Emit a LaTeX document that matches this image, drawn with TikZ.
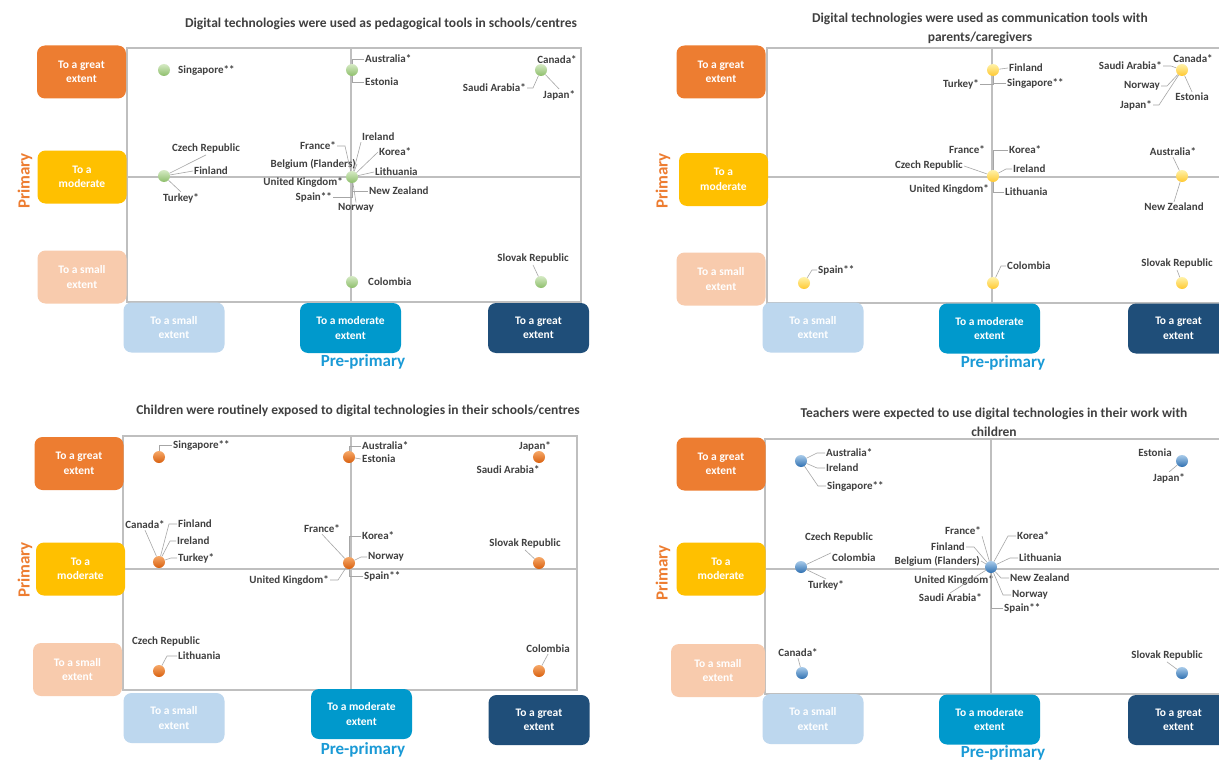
\documentclass[tikz,border=0pt]{standalone}
\usepackage{fontspec}
\setmainfont{Carlito}
\usetikzlibrary{calc}
\definecolor{cgreat}{HTML}{ED7D31}
\definecolor{cmod}{HTML}{FFC000}
\definecolor{csmall}{HTML}{F8CBAD}
\definecolor{bsmall}{HTML}{BDD7EE}
\definecolor{bmod}{HTML}{0099CC}
\definecolor{bgreat}{HTML}{1F4E79}
\definecolor{primc}{HTML}{ED7D31}
\definecolor{preprc}{HTML}{1A9AD6}
\definecolor{frgray}{HTML}{BFBFBF}
\definecolor{ldgray}{HTML}{A6A6A6}
\definecolor{labc}{HTML}{404040}
\definecolor{gtop}{HTML}{D5EAC4}
\definecolor{gbot}{HTML}{8DBE6A}
\definecolor{ytop}{HTML}{FFF2A8}
\definecolor{ybot}{HTML}{FFC830}
\definecolor{otop}{HTML}{F6A868}
\definecolor{obot}{HTML}{D8600F}
\definecolor{btop}{HTML}{A8CBEA}
\definecolor{bbot}{HTML}{2E6FB0}
\newcommand\dt[3]{\node[#1] (#2) at (#3) {};}
\newcommand\labW[3]{\node[lb,anchor=west] (#1) at (#2) {#3};}
\newcommand\labE[3]{\node[lb,anchor=east] (#1) at (#2) {#3};}
\newcommand\labC[3]{\node[lb] (#1) at (#2) {#3};}
\begin{document}
\begin{tikzpicture}[x=1pt,y=-1pt,
  frame/.style={draw=frgray, line width=1.1pt},
  lead/.style={draw=ldgray, line width=0.6pt},
  catbox/.style={rounded corners=8pt, text=white, align=center, font=\fontsize{11.5}{14.5}\selectfont\bfseries, inner sep=0pt},
  lbox/.style={catbox, minimum width=89pt, minimum height=53pt},
  bbox/.style={catbox, minimum width=101pt, minimum height=50pt},
  lb/.style={font=\fontsize{11}{12}\selectfont\bfseries, text=labc, inner sep=1pt},
  ttl/.style={font=\fontsize{13.5}{19}\selectfont\bfseries, text=labc, align=center},
  primlab/.style={font=\fontsize{17}{19}\selectfont\bfseries, text=primc, rotate=90},
  prelab/.style={font=\fontsize{17}{19}\selectfont\bfseries, text=preprc},
  dotb/.style={circle, minimum size=12pt, inner sep=0pt, draw=none},
  gdot/.style={dotb, top color=gtop, bottom color=gbot},
  ydot/.style={dotb, top color=ytop, bottom color=ybot},
  odot/.style={dotb, top color=otop, bottom color=obot},
  bdot/.style={dotb, top color=btop, bottom color=bbot}]
\useasboundingbox (0,0) rectangle (1219,760);
\fill[white] (0,0) rectangle (1219,760);

% ---------------- titles
\node[ttl] (t1) at (381,24) {Digital technologies were used as pedagogical tools in schools/centres};
\node[ttl] (t2) at (980,28.5) {Digital technologies were used as communication tools with\\parents/caregivers};
\node[ttl] (t3) at (358,411) {Children were routinely exposed to digital technologies in their schools/centres};
\node[ttl] (t4) at (994,422.5) {Teachers were expected to use digital technologies in their work with\\children};

% ---------------- frames
\draw[frame] (127,48) rectangle (581,302) (351,48) -- (351,302) (127,177) -- (581,177);
\draw[frame] (767,48) rectangle (1230,303) (992,48) -- (992,303) (767,177) -- (1230,177);
\draw[frame] (123,436) rectangle (577,690) (351,436) -- (351,690) (123,569) -- (577,569);
\draw[frame] (765,439) rectangle (1230,694) (991,439) -- (991,694) (765,569) -- (1230,569);

% ---------------- category boxes, panel 1
\node[lbox, fill=cgreat] (p1g) at (81.5,72) {To a great\\extent};
\node[lbox, fill=cmod] (p1m) at (82,177) {To a\\moderate};
\node[lbox, fill=csmall] (p1s) at (82,277) {To a small\\extent};
\node[bbox, fill=bsmall] (q1s) at (174,327.5) {To a small\\extent};
\node[bbox, fill=bmod] (q1m) at (350.5,328) {To a moderate\\extent};
\node[bbox, fill=bgreat] (q1g) at (538.5,328) {To a great\\extent};
\node[primlab] (pr1) at (25,181) {Primary};
\node[prelab] (pp1) at (363,362) {Pre-primary};
% panel 2
\node[lbox, fill=cgreat] (p2g) at (721,72) {To a great\\extent};
\node[lbox, fill=cmod] (p2m) at (723.5,179.5) {To a\\moderate};
\node[lbox, fill=csmall] (p2s) at (721,279) {To a small\\extent};
\node[bbox, fill=bsmall] (q2s) at (813,327.5) {To a small\\extent};
\node[bbox, fill=bmod] (q2m) at (989.5,328.5) {To a moderate\\extent};
\node[bbox, fill=bgreat] (q2g) at (1178.5,328.5) {To a great\\extent};
\node[primlab] (pr2) at (663,181) {Primary};
\node[prelab] (pp2) at (1003,363) {Pre-primary};
% panel 3
\node[lbox, fill=cgreat] (p3g) at (79,463.5) {To a great\\extent};
\node[lbox, fill=cmod] (p3m) at (80.5,569) {To a\\moderate};
\node[lbox, fill=csmall] (p3s) at (77.5,669.5) {To a small\\extent};
\node[bbox, fill=bsmall] (q3s) at (174,718) {To a small\\extent};
\node[bbox, fill=bmod] (q3m) at (361.5,714) {To a moderate\\extent};
\node[bbox, fill=bgreat] (q3g) at (539,720) {To a great\\extent};
\node[primlab] (pr3) at (25,570) {Primary};
\node[prelab] (pp3) at (363,750) {Pre-primary};
% panel 4
\node[lbox, fill=cgreat] (p4g) at (721,464) {To a great\\extent};
\node[lbox, fill=cmod] (p4m) at (721,569) {To a\\moderate};
\node[lbox, fill=csmall, minimum width=94pt] (p4s) at (718,670.5) {To a small\\extent};
\node[bbox, fill=bsmall] (q4s) at (813,719) {To a small\\extent};
\node[bbox, fill=bmod] (q4m) at (989.5,719.5) {To a moderate\\extent};
\node[bbox, fill=bgreat] (q4g) at (1178.5,720) {To a great\\extent};
\node[primlab] (pr4) at (663,573) {Primary};
\node[prelab] (pp4) at (1003,753) {Pre-primary};

% ================= panel 1 points
\dt{gdot}{a1}{164,70}
\dt{gdot}{a2}{352,70}
\dt{gdot}{a3}{541,70}
\dt{gdot}{a4}{164,176}
\dt{gdot}{a5}{352,177}
\dt{gdot}{a6}{352,282}
\dt{gdot}{a7}{541,282}
\labW{a1s}{177,70}{Singapore**}
\labW{a2a}{364,59}{Australia*}
\labW{a2e}{364,82}{Estonia}
\labC{a3c}{557,60}{Canada*}
\labE{a3s}{527,88}{Saudi Arabia*}
\labW{a3j}{542,95}{Japan*}
\labC{a4c}{206,149}{Czech Republic}
\labW{a4f}{193,171}{Finland}
\labC{a4t}{181,198}{Turkey*}
\labE{a5f}{337,146}{France*}
\labW{a5i}{361,137}{Ireland}
\labW{a5k}{378,152}{Korea*}
\labE{a5b}{357,164}{Belgium (Flanders)}
\labW{a5l}{374,172}{Lithuania}
\labE{a5u}{344,182}{United Kingdom*}
\labW{a5n}{368,191}{New Zealand}
\labE{a5s}{333,197}{Spain**}
\labC{a5o}{356,208}{Norway}
\labW{a6c}{367,282}{Colombia}
\labC{a7s}{533,259}{Slovak Republic}
\draw[lead] (a2) |- (a2a.west);
\draw[lead] (a2) |- (a2e.west);
\draw[lead] (a3s.east) -- ++(6,0) -- (a3);
\draw[lead] (a3) -- (a3j.north);
\draw[lead] (a4) -- (a4c.south);
\draw[lead] (a4) -- (a4f.west);
\draw[lead] (a4) -- (a4t.north);
\draw[lead] (a5f.east) -- ++(8,0) -- (a5);
\draw[lead] (a5) -- (a5i.south west);
\draw[lead] (a5) -- (a5k.west);
\draw[lead] (a5b.east) -- (a5);
\draw[lead] (a5l.west) -- (a5);
\draw[lead] (a5) |- (a5n.west);
\draw[lead] (a5s.east) -| (a5);
\draw[lead] (a5) -- (a5o.north);
\draw[lead] (a7) -- (a7s.south);

% ================= panel 2 points
\dt{ydot}{b1}{993,70}
\dt{ydot}{b2}{1182,70}
\dt{ydot}{b3}{993,176}
\dt{ydot}{b4}{1182,176}
\dt{ydot}{b5}{804,283}
\dt{ydot}{b6}{993,283}
\dt{ydot}{b7}{1182,283}
\labW{b1f}{1008,68}{Finland}
\labE{b1t}{980,84}{Turkey*}
\labW{b1s}{1006,83}{Singapore**}
\labE{b2s}{1163,66}{Saudi Arabia*}
\labC{b2c}{1193,59}{Canada*}
\labE{b2n}{1161,86}{Norway}
\labC{b2e}{1192,97}{Estonia}
\labE{b2j}{1153,105}{Japan*}
\labE{b3f}{986,150}{France*}
\labW{b3k}{1008,150}{Korea*}
\labE{b3c}{964,166}{Czech Republic}
\labW{b3i}{1012,169}{Ireland}
\labE{b3u}{990,189}{United Kingdom*}
\labW{b3l}{1004,192}{Lithuania}
\labC{b4a}{1173,152}{Australia*}
\labC{b4n}{1174,207}{New Zealand}
\labW{b5s}{817,270}{Spain**}
\labW{b6c}{1006,266}{Colombia}
\labC{b7s}{1177,264}{Slovak Republic}
\draw[lead] (b1) -- (b1f.west);
\draw[lead] (b1t.east) -| (b1);
\draw[lead] (b1s.west) -| (b1);
\draw[lead] (b2s.east) -- ++(8,0) -- (b2);
\draw[lead] (b2n.east) -- ++(6,0) -- (b2);
\draw[lead] (b2) -- (b2e.north);
\draw[lead] (b2j.east) -- ++(6,0) -- (b2);
\draw[lead] (b3k.west) -| (b3);
\draw[lead] (b3c.east) -- (b3);
\draw[lead] (b3i.west) -- ++(-6,0) -- (b3);
\draw[lead] (b3l.west) -| (b3);
\draw[lead] (b4) -- (b4a.south);
\draw[lead] (b4) -- (b4n.north);
\draw[lead] (b5s.west) -- ++(-5,0) -- (b5);
\draw[lead] (b6c.west) -- ++(-5,0) -- (b6);
\draw[lead] (b7) -- (b7s.south);

% ================= panel 3 points
\dt{odot}{c1}{159,457}
\dt{odot}{c2}{349,457}
\dt{odot}{c3}{539,457}
\dt{odot}{c4}{159,562}
\dt{odot}{c5}{349,563}
\dt{odot}{c6}{539,563}
\dt{odot}{c7}{159,671}
\dt{odot}{c8}{539,671}
\labW{c1s}{172,445}{Singapore**}
\labW{c2a}{361,446}{Australia*}
\labW{c2e}{361,459}{Estonia}
\labC{c3j}{535,446}{Japan*}
\labC{c3s}{508,470}{Saudi Arabia*}
\labC{c4c}{145,525}{Canada*}
\labW{c4f}{177,524}{Finland}
\labW{c4i}{176,541}{Ireland}
\labW{c4t}{177,558}{Turkey*}
\labC{c5f}{322,529}{France*}
\labW{c5k}{361,536}{Korea*}
\labW{c5n}{367,557}{Norway}
\labE{c5u}{330,580}{United Kingdom*}
\labW{c5s}{363,576}{Spain**}
\labC{c6s}{525,544}{Slovak Republic}
\labC{c7c}{166,642}{Czech Republic}
\labW{c7l}{177,656}{Lithuania}
\labC{c8c}{548,649}{Colombia}
\draw[lead] (c1s.west) -| (c1);
\draw[lead] (c2a.west) -| (c2);
\draw[lead] (c2e.west) -- (c2);
\draw[lead] (c4c.south) -- (c4);
\draw[lead] (c4f.west) -- ++(-8,0) -- (c4);
\draw[lead] (c4i.west) -- ++(-6,0) -- (c4);
\draw[lead] (c4t.west) -- ++(-6,0) -- (c4);
\draw[lead] (c5f.south) -- (c5);
\draw[lead] (c5k.west) -| (c5);
\draw[lead] (c5n.west) -- ++(-6,0) -- (c5);
\draw[lead] (c5u.east) -- ++(8,0) -- (c5);
\draw[lead] (c5s.west) -| (c5);
\draw[lead] (c6) -- (c6s.south);
\draw[lead] (c7l.west) -- ++(-10,0) -- (c7);
\draw[lead] (c8) -- (c8c.south);

% ================= panel 4 points
\dt{bdot}{d1}{801,461}
\dt{bdot}{d2}{1182,461}
\dt{bdot}{d3}{801,567}
\dt{bdot}{d4}{991,567}
\dt{bdot}{d5}{802,673}
\dt{bdot}{d6}{1182,673}
\labW{d1a}{825,453}{Australia*}
\labW{d1i}{825,468}{Ireland}
\labW{d1s}{826,486}{Singapore**}
\labC{d2e}{1155,453}{Estonia}
\labC{d2j}{1169,478}{Japan*}
\labC{d3c}{839,538}{Czech Republic}
\labW{d3o}{831,558}{Colombia}
\labC{d3t}{826,585}{Turkey*}
\labC{d4f}{963,531}{France*}
\labE{d4fi}{966,547}{Finland}
\labE{d4b}{981,561}{Belgium (Flanders)}
\labW{d4k}{1016,536}{Korea*}
\labW{d4l}{1018,558}{Lithuania}
\labE{d4u}{995,580}{United Kingdom*}
\labE{d4s}{983,598}{Saudi Arabia*}
\labW{d4n}{1009,578}{New Zealand}
\labW{d4o}{1011,595}{Norway}
\labW{d4sp}{1003,608}{Spain**}
\labC{d5c}{798,653}{Canada*}
\labC{d6s}{1167,656}{Slovak Republic}
\draw[lead] (d1a.west) -- ++(-8,0) -- (d1);
\draw[lead] (d1i.west) -- ++(-8,0) -- (d1);
\draw[lead] (d1s.west) -- ++(-8,0) -- (d1);
\draw[lead] (d2) -- (d2j.north);
\draw[lead] (d3) -- (d3o.north west);
\draw[lead] (d3) -- (d3t.north);
\draw[lead] (d4f.south east) -- (d4);
\draw[lead] (d4fi.east) -- ++(8,0) -- (d4);
\draw[lead] (d4b.east) -- (d4);
\draw[lead] (d4k.west) -- ++(-8,0) -- (d4);
\draw[lead] (d4l.west) -- ++(-8,0) -- (d4);
\draw[lead] (d4s.north) -- (d4);
\draw[lead] (d4n.west) -- ++(-8,0) -- (d4);
\draw[lead] (d4o.west) -- ++(-8,0) -- (d4);
\draw[lead] (d4sp.west) -| (d4);
\draw[lead] (d5) -- (d5c.south);
\draw[lead] (d6) -- (d6s.south);
\end{tikzpicture}
\end{document}
